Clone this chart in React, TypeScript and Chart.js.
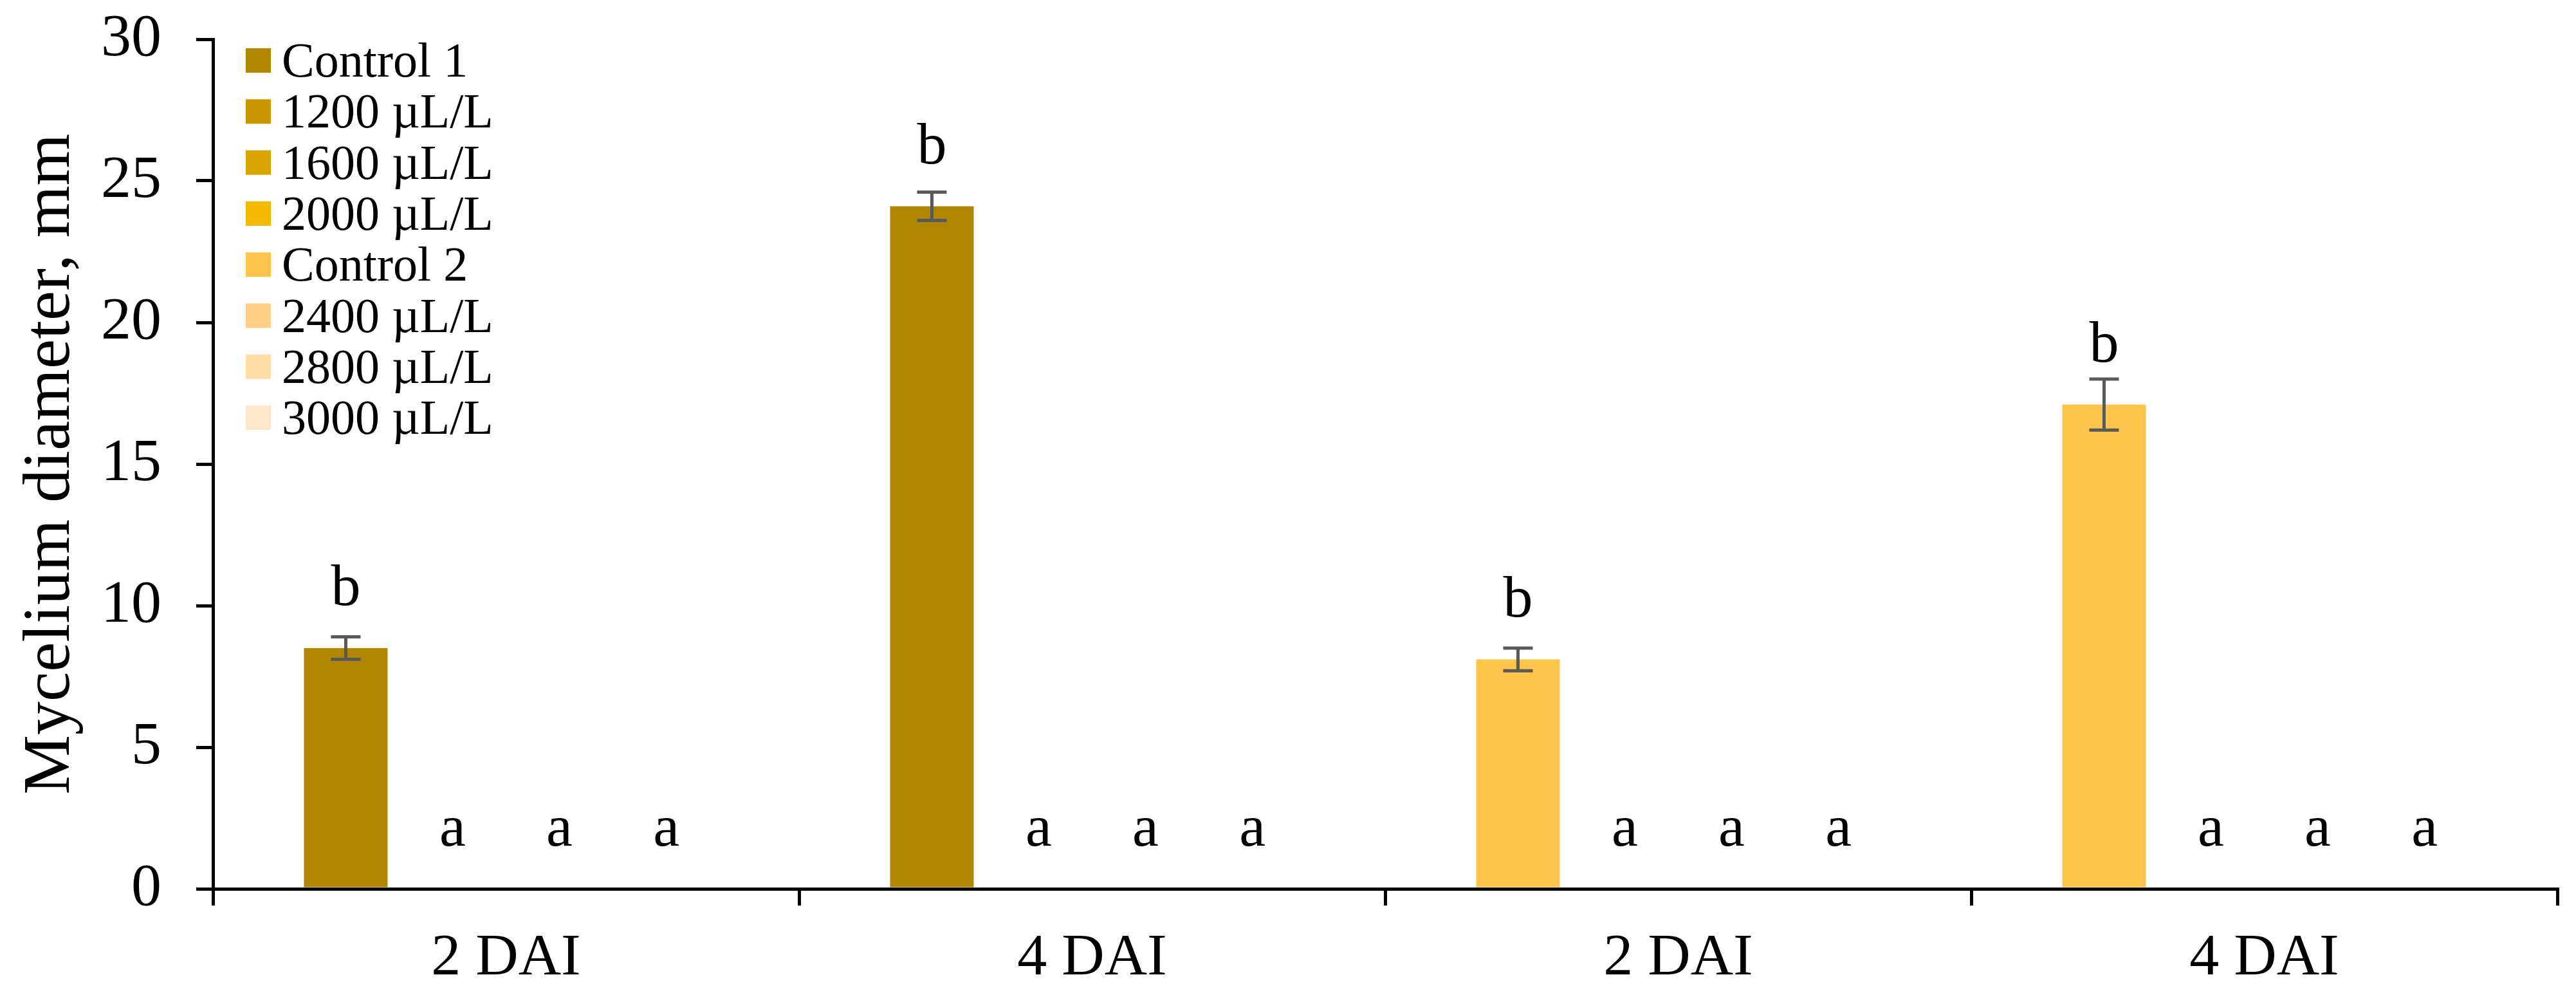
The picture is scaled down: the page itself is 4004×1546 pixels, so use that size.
import React, { useEffect, useRef } from 'react';
import { Chart, registerables } from 'chart.js';

Chart.register(...registerables);

// ---- Data ----
const categories = ['2 DAI', '4 DAI', '2 DAI', '4 DAI'];

const seriesNames = [
  'Control 1',
  '1200 µL/L',
  '1600 µL/L',
  '2000 µL/L',
  'Control 2',
  '2400 µL/L',
  '2800 µL/L',
  '3000 µL/L',
];

const seriesColors = [
  '#B08600',
  '#C99600',
  '#DBA300',
  '#F5B800',
  '#FFC44C',
  '#FFD085',
  '#FFDCA6',
  '#FFE8C9',
];

const seriesStacks = ['s1', 's2', 's3', 's4', 's1', 's2', 's3', 's4'];

const control1 = [8.5, 24.1, null, null];
const dose1200 = [0, 0, null, null];
const dose1600 = [0, 0, null, null];
const dose2000 = [0, 0, null, null];
const control2 = [null, null, 8.1, 17.1];
const dose2400 = [null, null, 0, 0];
const dose2800 = [null, null, 0, 0];
const dose3000 = [null, null, 0, 0];

const control1Err = [0.4, 0.5, null, null];
const control2Err = [null, null, 0.4, 0.9];
const noErr = [null, null, null, null];

const control1Letters = ['b', 'b', null, null];
const group1Letters = ['a', 'a', null, null];
const control2Letters = [null, null, 'b', 'b'];
const group2Letters = [null, null, 'a', 'a'];

const yMin = 0;
const yMax = 30;
const yStep = 5;

const yTitle = 'Mycelium diameter, mm';

const seriesValues = [control1, dose1200, dose1600, dose2000, control2, dose2400, dose2800, dose3000];
const seriesErrors = [control1Err, noErr, noErr, noErr, control2Err, noErr, noErr, noErr];
const seriesLetters = [
  control1Letters,
  group1Letters,
  group1Letters,
  group1Letters,
  control2Letters,
  group2Letters,
  group2Letters,
  group2Letters,
];

const FONT = '"Liberation Serif", "Times New Roman", serif';

const annotationPlugin = {
  id: 'annotations',
  afterDatasetsDraw(chart: any) {
    const ctx = chart.ctx;
    const yScale = chart.scales.y;
    ctx.save();
    // error bars
    ctx.strokeStyle = '#595959';
    ctx.lineWidth = 5;
    chart.data.datasets.forEach((ds: any, di: number) => {
      const meta = chart.getDatasetMeta(di);
      const errs = seriesErrors[di];
      ds.data.forEach((v: any, i: number) => {
        const e = errs[i];
        if (v === null || e === null || e === undefined) return;
        const el = meta.data[i];
        const x = el.x;
        const yt = yScale.getPixelForValue(v + e);
        const yb = yScale.getPixelForValue(v - e);
        const cap = 23;
        ctx.beginPath();
        ctx.moveTo(x, yt);
        ctx.lineTo(x, yb);
        ctx.moveTo(x - cap, yt);
        ctx.lineTo(x + cap, yt);
        ctx.moveTo(x - cap, yb);
        ctx.lineTo(x + cap, yb);
        ctx.stroke();
      });
    });
    // letters
    ctx.fillStyle = '#000';
    ctx.font = `92px ${FONT}`;
    ctx.textAlign = 'center';
    ctx.textBaseline = 'alphabetic';
    chart.data.datasets.forEach((ds: any, di: number) => {
      const meta = chart.getDatasetMeta(di);
      const letters = seriesLetters[di];
      ds.data.forEach((v: any, i: number) => {
        const l = letters[i];
        if (v === null || !l) return;
        const el = meta.data[i];
        ctx.fillText(l, el.x, yScale.getPixelForValue(v) - 67);
      });
    });
    ctx.restore();
  },
  afterDraw(chart: any) {
    const ctx = chart.ctx;
    const area = chart.chartArea;
    ctx.save();
    // y axis title
    ctx.fillStyle = '#000';
    ctx.font = `104px ${FONT}`;
    ctx.textAlign = 'center';
    ctx.textBaseline = 'alphabetic';
    ctx.translate(107, (area.top + area.bottom) / 2);
    ctx.rotate(-Math.PI / 2);
    ctx.fillText(yTitle, 0, 0);
    ctx.restore();

    // legend
    ctx.save();
    ctx.font = `76px ${FONT}`;
    ctx.textAlign = 'left';
    ctx.textBaseline = 'alphabetic';
    chart.data.datasets.forEach((ds: any, di: number) => {
      const cy = area.top + 33 + di * 79.3;
      ctx.fillStyle = ds.backgroundColor;
      ctx.fillRect(area.left + 51, cy - 19, 39, 38);
      ctx.fillStyle = '#000';
      ctx.fillText(ds.label, area.left + 107, cy + 25);
    });
    ctx.restore();
  },
};

export default function App() {
  const canvasRef = useRef<HTMLCanvasElement | null>(null);

  useEffect(() => {
    const canvas = canvasRef.current;
    if (!canvas) return;
    const chart = new Chart(canvas, {
      type: 'bar',
      data: {
        labels: categories,
        datasets: seriesNames.map((name, i) => ({
          label: name,
          data: seriesValues[i],
          backgroundColor: seriesColors[i],
          borderWidth: 0,
          stack: seriesStacks[i],
          categoryPercentage: 0.729,
          barPercentage: 0.783,
        })),
      },
      options: {
        responsive: false,
        animation: false,
        devicePixelRatio: 1,
        layout: { padding: { left: 0, top: 61, right: 29, bottom: 0 } },
        plugins: {
          legend: { display: false },
          tooltip: { enabled: false },
        },
        scales: {
          x: {
            offset: true,
            grid: {
              display: true,
              offset: true,
              drawOnChartArea: false,
              drawTicks: true,
              tickLength: 26,
              tickWidth: 5,
              tickColor: '#000',
              color: '#000',
              lineWidth: 5,
            },
            border: { display: true, color: '#000', width: 5 },
            ticks: {
              color: '#000',
              font: { family: FONT, size: 92 },
              padding: 28,
              maxRotation: 0,
              autoSkip: false,
            },
            afterFit(scale: any) {
              scale.height = 165;
              scale.paddingLeft = 0;
              scale.paddingRight = 0;
            },
          },
          y: {
            stacked: true,
            min: yMin,
            max: yMax,
            grid: {
              display: true,
              drawOnChartArea: false,
              drawTicks: true,
              tickLength: 26,
              tickWidth: 5,
              tickColor: '#000',
              color: '#000',
              lineWidth: 5,
            },
            border: { display: true, color: '#000', width: 5 },
            ticks: {
              stepSize: yStep,
              color: '#000',
              font: { family: FONT, size: 94 },
              padding: 54,
            },
            afterFit(scale: any) {
              scale.width = 331;
              scale.paddingTop = 0;
              scale.paddingBottom = 0;
            },
          },
        },
      },
      plugins: [annotationPlugin],
    });
    return () => chart.destroy();
  }, []);

  return (
    <div style={{ position: 'absolute', left: 0, top: 0, width: 4004, height: 1546, background: '#fff' }}>
      <canvas ref={canvasRef} width={4004} height={1546} style={{ width: 4004, height: 1546, display: 'block' }} />
    </div>
  );
}
